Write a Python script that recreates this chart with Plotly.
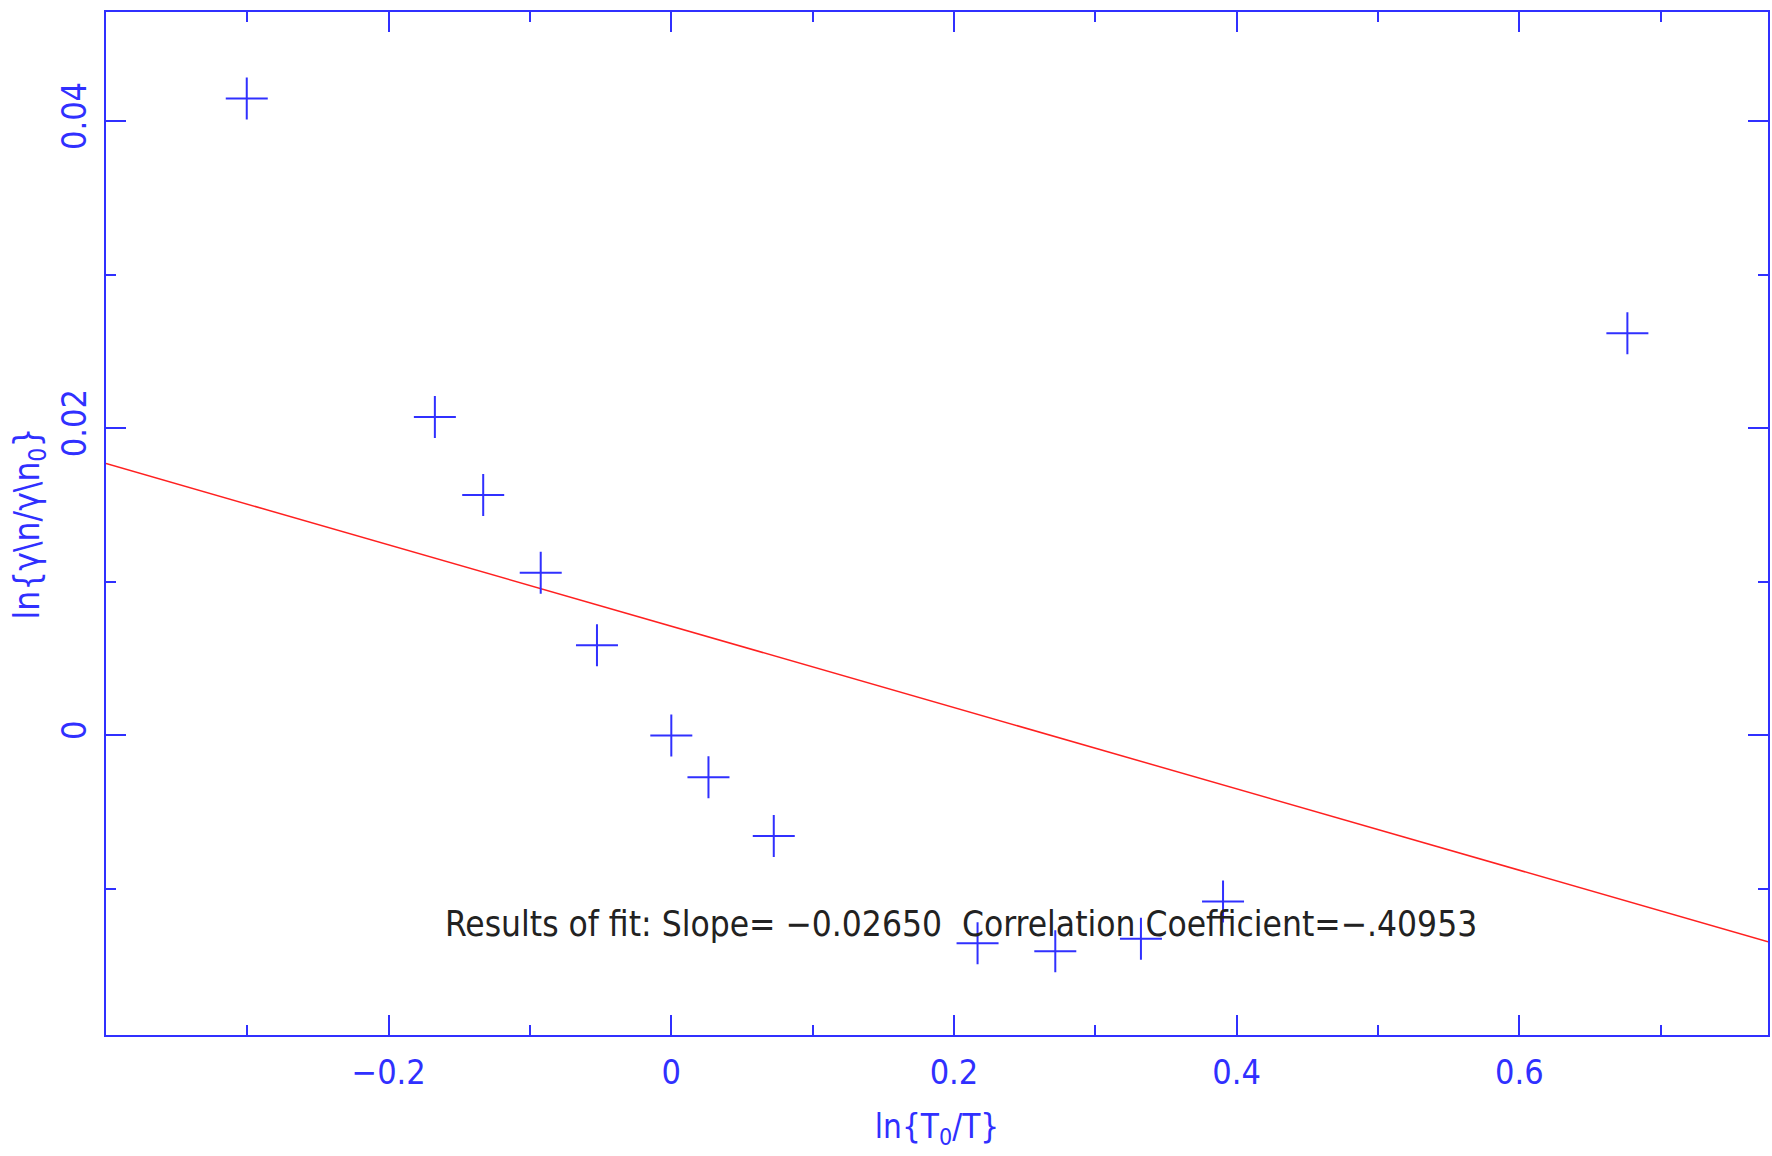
import numpy as np
import plotly.graph_objects as go

# Data
ln_T0_T = [-0.3004, -0.1673, -0.1331, -0.0924, -0.0526, 0.0, 0.0263, 0.0725,
           0.2167, 0.2717, 0.3323, 0.3904, 0.6765]
ln_gamma_ratio = [0.04147, 0.02074, 0.01566, 0.01059, 0.00588, 0.0, -0.00272, -0.00654,
                  -0.01353, -0.01404, -0.01324, -0.01081, 0.02618]

x_range = [-0.4, 0.776]
y_range = [-0.0195, 0.0471]
x_ticks = [-0.2, 0, 0.2, 0.4, 0.6]
x_ticklabels = ["\u22120.2", "0", "0.2", "0.4", "0.6"]
y_ticks = [0, 0.02, 0.04]
y_ticklabels = ["0", "0.02", "0.04"]

fit_slope_text = "\u22120.02650"
fit_corr_text = "\u2212.40953"

slope, intercept = np.polyfit(ln_T0_T, ln_gamma_ratio, 1)
fit_x = np.array(x_range)
fit_y = slope * fit_x + intercept

BLUE = "#3030ff"
FONT = "Liberation Sans Narrow, DejaVu Sans Condensed, Arial Narrow, sans-serif"

fig = go.Figure()
fig.add_trace(go.Scatter(
    x=fit_x, y=fit_y, mode="lines",
    line=dict(color="#ff2020", width=1.5),
    hoverinfo="skip", showlegend=False))
fig.add_trace(go.Scatter(
    x=ln_T0_T, y=ln_gamma_ratio, mode="markers",
    marker=dict(symbol="cross-thin", size=30, color=BLUE,
                line=dict(width=2, color=BLUE)),
    showlegend=False))

fig.add_annotation(
    x=0.205, xref="x", y=-0.01228, yref="y",
    text=f"Results of fit: Slope= {fit_slope_text}  Correlation Coefficient={fit_corr_text}",
    showarrow=False, font=dict(family=FONT, size=35, color="#222222"),
    xanchor="center", yanchor="middle")

axis_common = dict(
    showline=True, linecolor=BLUE, linewidth=2, mirror="ticks",
    ticks="inside", ticklen=20, tickwidth=1.5, tickcolor=BLUE,
    showgrid=False, zeroline=False,
    tickfont=dict(family=FONT, size=34, color=BLUE),
)

fig.update_xaxes(
    range=x_range, tickvals=x_ticks, ticktext=x_ticklabels,
    minor=dict(dtick=0.1, ticks="inside", ticklen=10, tickcolor=BLUE, tickwidth=1.5),
    title=dict(text="ln{T<sub>0</sub>/T}", font=dict(family=FONT, size=33, color=BLUE), standoff=24),
    ticklabelstandoff=6,
    **axis_common)
fig.update_yaxes(
    range=y_range, tickvals=y_ticks, ticktext=y_ticklabels, tickangle=-90,
    minor=dict(dtick=0.01, ticks="inside", ticklen=10, tickcolor=BLUE, tickwidth=1.5),
    title=dict(text="ln{\u03b3\\n/\u03b3\\n<sub>0</sub>}", font=dict(family=FONT, size=35, color=BLUE), standoff=4),
    ticklabelstandoff=4,
    **axis_common)

fig.update_layout(
    width=1772, height=1156,
    margin=dict(l=106, r=2, t=12, b=121),
    paper_bgcolor="white", plot_bgcolor="white",
)

fig.write_html("out.html")
